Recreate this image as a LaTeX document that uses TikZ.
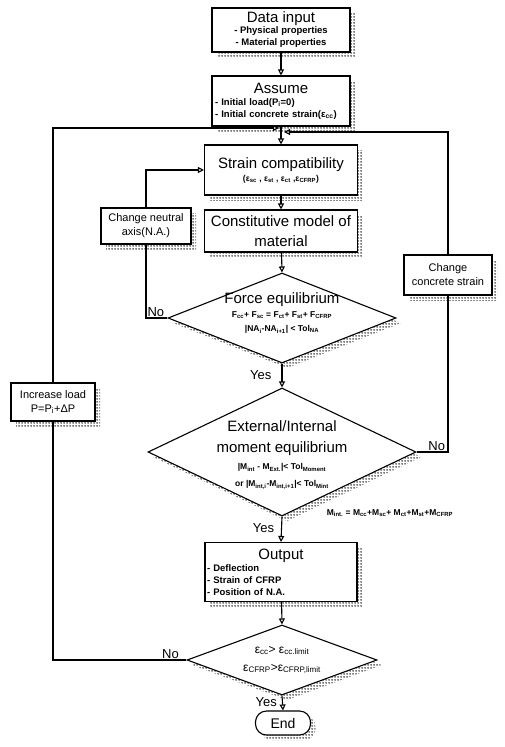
\documentclass[tikz,border=0pt]{standalone}
\usepackage{fontspec}
\setmainfont{Liberation Sans}
\usetikzlibrary{arrows.meta,positioning,calc,shapes.geometric,patterns}

\newcommand{\lo}[1]{\textsubscript{#1}}
\newcommand{\hd}[1]{{\fontsize{15}{18}\selectfont #1}}
\newcommand{\itm}[1]{{\fontsize{9.5}{12}\selectfont\bfseries #1}}

% halftone dots for the shadows
\pgfdeclarepatternformonly{shadowdots}{\pgfpointorigin}{\pgfpoint{2.5pt}{2.5pt}}{\pgfpoint{2.5pt}{2.5pt}}%
  {\pgfpathcircle{\pgfpoint{1.25pt}{1.25pt}}{0.95pt}\pgfusepath{fill}}

\begin{document}
\begin{tikzpicture}[x=1pt,y=-1pt,
  shadowfill/.style={draw=none,pattern=shadowdots,pattern color=black},
  box/.style={draw,line width=1.1pt,fill=white,inner sep=2pt,align=center,font=\fontsize{9.5}{12}\selectfont},
  decision/.style={draw,line width=1.1pt,fill=white,diamond,inner sep=0pt},
  flow/.style={line width=1.1pt,-{Triangle[open,length=6pt,width=6pt]}},
  line/.style={line width=1.1pt},
  lab/.style={font=\fontsize{13}{15}\selectfont,inner sep=1pt}
]
\useasboundingbox (0,0) rectangle (504,747);

% shadows first, at the box places
\foreach \cx/\cy/\w/\h in {281/30/138/44, 281/101/138/50, 281/170/153/50, 281/231/153/42,
    281/572/152/59, 146/226/90/36, 448/275/88/40, 53/402/84/38}
  \path[shadowfill] (\cx-\w/2+5,\cy-\h/2+5) rectangle (\cx+\w/2+5,\cy+\h/2+5);
\foreach \cx/\cy/\w/\h in {282/318/228/90, 282/452/268/128, 282/660/190/70}
  \path[shadowfill] (\cx+5,\cy-\h/2+5) -- (\cx+\w/2+5,\cy+5) -- (\cx+5,\cy+\h/2+5) -- (\cx-\w/2+5,\cy+5) -- cycle;
\path[shadowfill,rounded corners=11pt] (260.5,716) rectangle (315.5,740);

% main column
\node[box,minimum width=138pt,minimum height=44pt] (datain) at (281,30)
  {\hd{Data input}\\[-1pt]\itm{- Physical properties}\\\itm{- Material properties}};
\node[box,minimum width=138pt,minimum height=50pt,text width=132pt,align=left] (assume) at (281,101)
  {{\centering\hd{Assume}\par}\itm{- Initial load(P\lo{i}=0)}\\\itm{- Initial concrete strain(ε\lo{cc})}};
\node[box,minimum width=153pt,minimum height=50pt] (strain) at (281,170)
  {\hd{Strain compatibility}\\[1pt]{\fontsize{8.5}{10}\selectfont\bfseries(ε\lo{sc} , ε\lo{st} , ε\lo{ct} ,ε\lo{CFRP})}};
\node[box,minimum width=153pt,minimum height=42pt,font=\fontsize{15}{20}\selectfont] (const) at (281,231)
  {Constitutive model of\\material};
\node[decision,minimum width=228pt,minimum height=90pt] (force) at (282,318) {};
\node[align=center,font=\fontsize{8.5}{14}\selectfont\bfseries,yshift=5pt] (forcetxt) at (force.center)
  {\hd{\mdseries Force equilibrium}\\F\lo{cc}+ F\lo{sc} = F\lo{ct}+ F\lo{st}+ F\lo{CFRP}\\|NA\lo{i}-NA\lo{i+1}| < Tol\lo{NA}};
\node[decision,minimum width=268pt,minimum height=128pt] (moment) at (282,452) {};
\node[align=center,font=\fontsize{8.5}{17}\selectfont\bfseries,yshift=-3pt] (momenttxt) at (moment.center)
  {\hd{\mdseries External/Internal}\\[4pt]\hd{\mdseries moment equilibrium}\\|M\lo{int} - M\lo{Ext.}|< Tol\lo{Moment}\\or |M\lo{int,i}-M\lo{int,i+1}|< Tol\lo{Mint}};
\node[font=\fontsize{8.5}{10}\selectfont\bfseries] (mint) at (390,513)
  {M\lo{int.} = M\lo{cc}+M\lo{sc}+ M\lo{ct}+M\lo{st}+M\lo{CFRP}};
\node[box,minimum width=152pt,minimum height=59pt,text width=148pt,align=left] (output) at (281,572)
  {{\centering\hd{Output}\par}\itm{- Deflection}\\\itm{- Strain of CFRP}\\\itm{- Position of N.A.}};
\node[decision,minimum width=190pt,minimum height=70pt] (check) at (282,660) {};
\node[align=center,font=\fontsize{12}{18}\selectfont] (checktxt) at (check.center)
  {ε\lo{cc}> ε\lo{cc.limit}\\ε\lo{CFRP}>ε\lo{CFRP,limit}};
\node[draw,line width=1.1pt,fill=white,rounded corners=11pt,minimum width=55pt,minimum height=24pt,font=\fontsize{14}{16}\selectfont] (end) at (283,723) {End};

% side boxes
\node[box,minimum width=90pt,minimum height=36pt,font=\fontsize{11}{14}\selectfont] (neutral) at (146,226)
  {Change neutral\\axis(N.A.)};
\node[box,minimum width=88pt,minimum height=40pt,font=\fontsize{11}{14}\selectfont] (concrete) at (448,275)
  {Change\\concrete strain};
\node[box,minimum width=84pt,minimum height=38pt,font=\fontsize{11}{14}\selectfont] (increase) at (53,402)
  {Increase load\\P=P\lo{i}+ΔP};

\coordinate (mergeL) at (279,128);
\coordinate (mergeR) at (284,132);

% connectors
\draw[flow] (datain) -- (assume);
\draw[flow] (assume) -- (strain);
\draw[flow] (neutral.north) |- (strain.west);
\draw[flow] (strain) -- (const);
\draw[flow] (const) -- (force.north);
\draw[line] (force.west) -| node[lab,above,pos=0.27] {No} (neutral.south);
\draw[flow] (force.south) -- node[lab,left,xshift=-9pt] {Yes} (moment.north);
\draw[line] (moment.east) -| node[lab,above,pos=0.32] {No} (concrete.south);
\draw[flow] (concrete.north) |- (mergeR);
\draw[flow] (moment.south) -- node[lab,left,xshift=-6pt,pos=0.45] {Yes} (output.north);
\draw[flow] (output) -- (check.north);
\draw[line] (check.west) -| node[lab,above,pos=0.06] {No} (increase.south);
\draw[flow] (increase.north) |- (mergeL);
\draw[flow] (check.south) -- node[lab,left,xshift=-4pt,pos=0.45] {Yes} (end.north);
\end{tikzpicture}
\end{document}
